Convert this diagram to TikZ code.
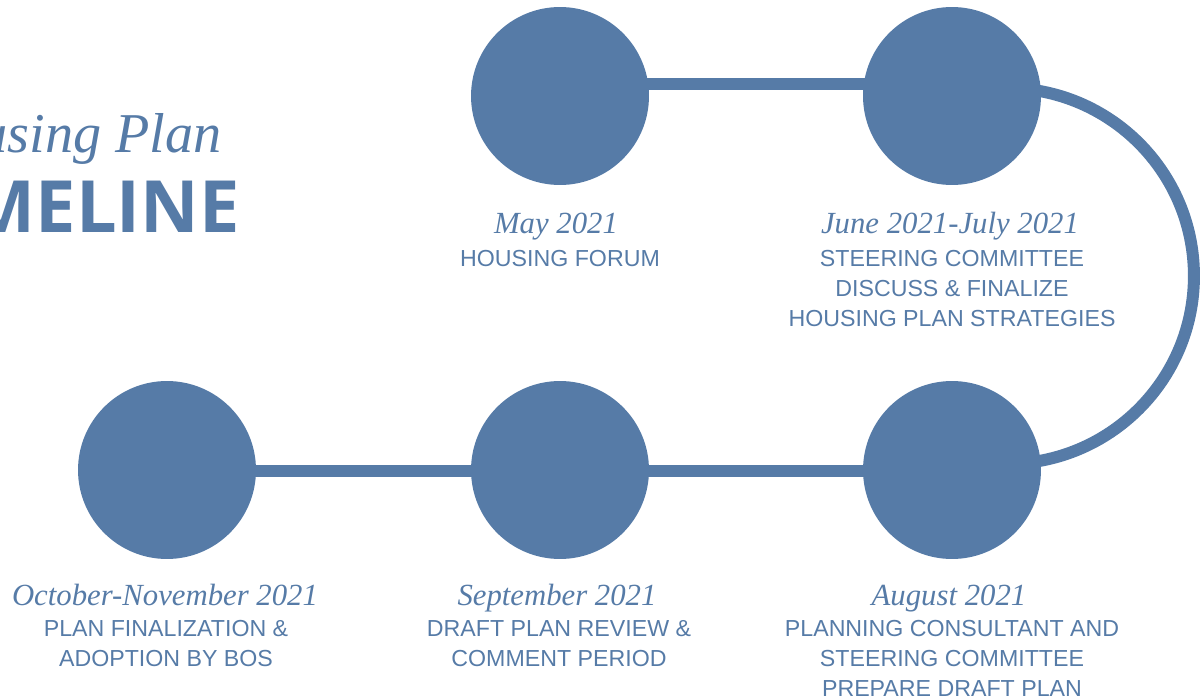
\documentclass[tikz,border=0pt]{standalone}
\usepackage{fontspec}
\setmainfont{Liberation Sans}
\newfontfamily\datefont{Liberation Serif}
\newfontfamily\headfont{Open Sans}
\usetikzlibrary{positioning}
\usetikzlibrary{backgrounds}
\definecolor{planblue}{RGB}{86,123,167}

\begin{document}
\begin{tikzpicture}[x=0.02cm,y=0.02cm,
  stop/.style={circle,fill=planblue,draw=none,minimum size=3.56cm,inner sep=0pt},
  link/.style={draw=planblue,line width=0.24cm},
  when/.style={font=\datefont\itshape\fontsize{17.5}{20}\selectfont,text=planblue,anchor=base,inner sep=0pt},
  what/.style={font=\fontsize{13.2}{17}\selectfont,text=planblue,align=center,anchor=base,inner sep=0pt}]
\useasboundingbox (0,0) rectangle (1201,698);

% title, cut at the left edge
\node[font=\datefont\itshape\fontsize{32}{36}\selectfont,text=planblue,anchor=base east,inner sep=0pt] (head) at (222,546) {Housing Plan};
\node[font=\headfont\bfseries\fontsize{41}{44}\selectfont,text=planblue,anchor=base east,inner sep=0pt] (time) at (240,466) {TIMELINE};

% stops
\node[stop] (may) at (560,602) {};
\node[stop] (june) at (952,602) {};
\node[stop] (aug) at (952,228) {};
\node[stop] (sep) at (560,228) {};
\node[stop] (oct) at (167,228) {};

% connectors
\begin{pgfonlayer}{background}
\draw[link] ([yshift=0.24cm]may.center) -- ([yshift=0.24cm]june.center);
\draw[link] ([shift={(1.08cm,0.16cm)}]june.center) arc[start angle=90,end angle=-90,radius=3.76cm];
\draw[link] ([yshift=-0.02cm]aug.center) -- ([yshift=-0.02cm]sep.center);
\draw[link] ([yshift=-0.02cm]sep.center) -- ([yshift=-0.02cm]oct.center);
\end{pgfonlayer}

% labels (base of a text block = its last line)
\node[when] (maydate) at (556,465) {May 2021};
\node[what] (maytext) at (560,432) {HOUSING FORUM};
\node[when] (junedate) at (950,465) {June 2021-July 2021};
\node[what] (junetext) at (952,372) {STEERING COMMITTEE\\DISCUSS \& FINALIZE\\HOUSING PLAN STRATEGIES};
\node[when] (augdate) at (949,93) {August 2021};
\node[what] (augtext) at (952,2) {PLANNING CONSULTANT AND\\STEERING COMMITTEE\\PREPARE DRAFT PLAN};
\node[when] (sepdate) at (557,93) {September 2021};
\node[what] (septext) at (559,32) {DRAFT PLAN REVIEW \&\\COMMENT PERIOD};
\node[when] (octdate) at (165,93) {October-November 2021};
\node[what] (octtext) at (166,32) {PLAN FINALIZATION \&\\ADOPTION BY BOS};

\end{tikzpicture}
\end{document}
